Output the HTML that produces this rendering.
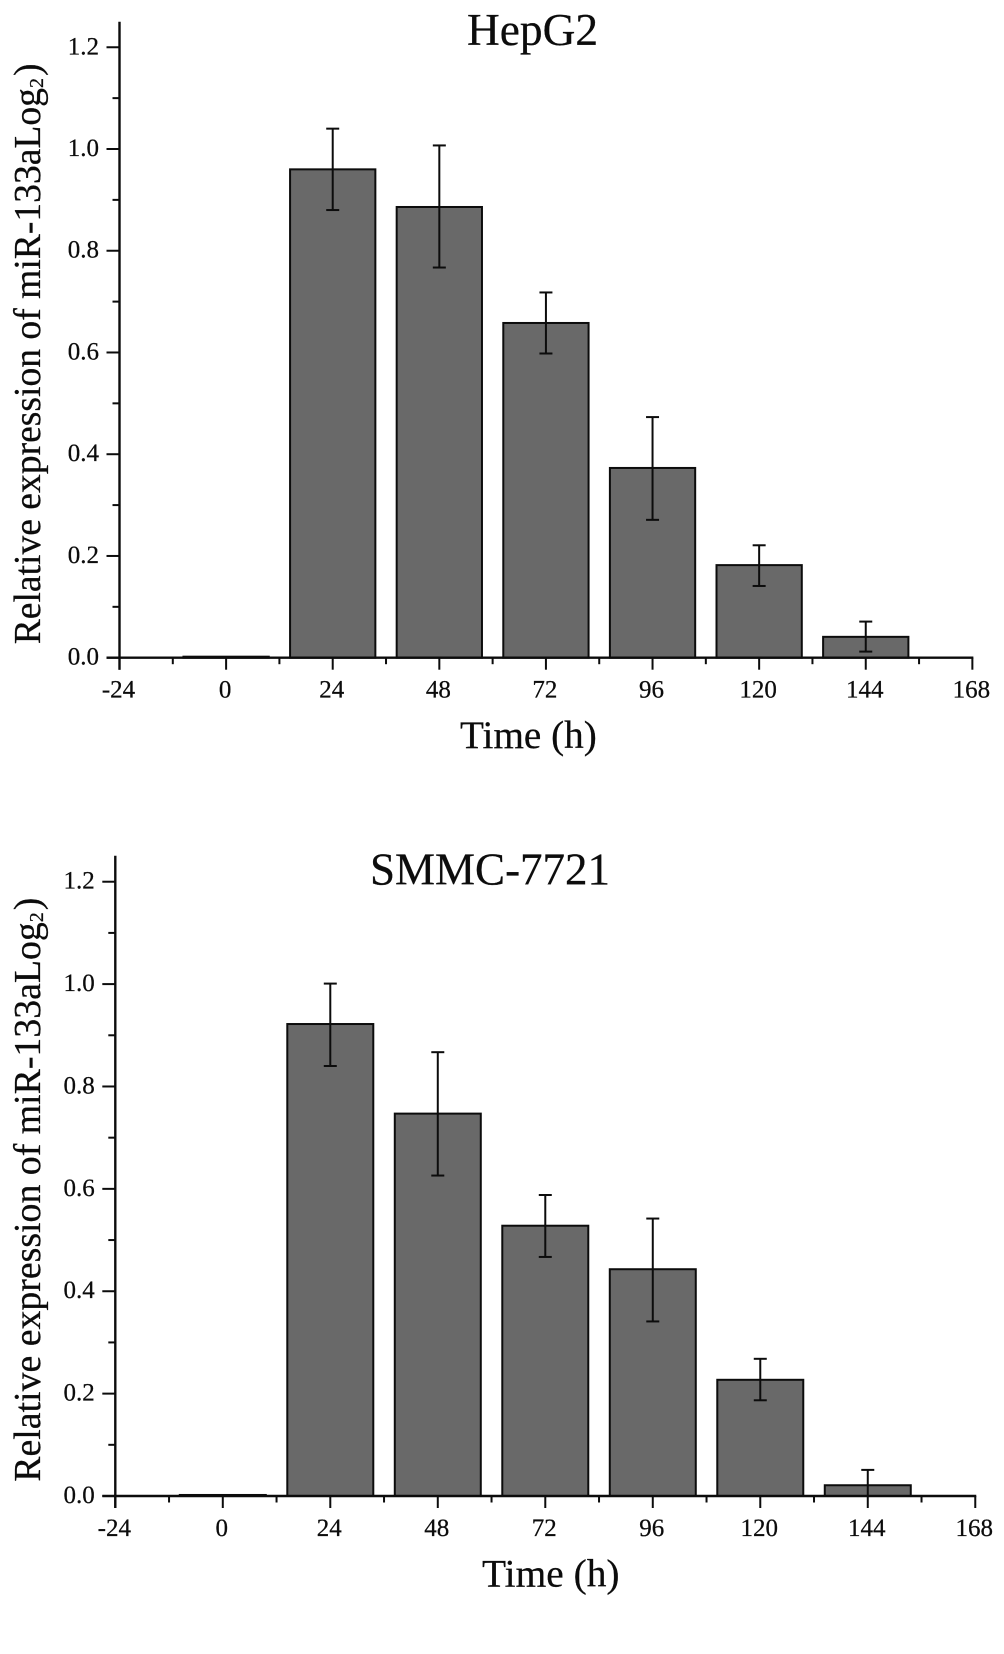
<!DOCTYPE html>
<html>
<head>
<meta charset="utf-8">
<style>
html,body{margin:0;padding:0;background:#fff;width:1004px;height:1654px;overflow:hidden}
svg{display:block}
text{font-family:"Liberation Serif",serif;fill:#0c0c0c;stroke:#0c0c0c;stroke-width:.25px}
</style>
</head>
<body>
<svg id="figure" width="1004" height="1654" viewBox="0 0 1004 1654" xmlns="http://www.w3.org/2000/svg">
  <rect x="0" y="0" width="1004" height="1654" fill="#ffffff"/>
  <g id="chart-top">
    <text x="467" y="45" font-size="45.4">HepG2</text>
    <text x="460" y="748" font-size="39.2">Time (h)</text>
    <text transform="translate(40,644.3) rotate(-90)" font-size="37.6">Relative expression of miR-133aLog<tspan font-size="20" dy="3">2</tspan><tspan dy="-3" dx="2">)</tspan></text>
  </g>
  <g id="chart-bottom">
    <text x="370" y="884.3" font-size="45">SMMC-7721</text>
    <text x="482" y="1586.7" font-size="39.4">Time (h)</text>
    <text transform="translate(40,1481.7) rotate(-90)" font-size="37.8">Relative expression of miR-133aLog<tspan font-size="20" dy="3">2</tspan><tspan dy="-3" dx="2">)</tspan></text>
  </g>
</svg>
<script>
const timePoints = [0, 24, 48, 72, 96, 120, 144];
const xTickValues = [-24, 0, 24, 48, 72, 96, 120, 144, 168];
const xTickLabels = ["-24", "0", "24", "48", "72", "96", "120", "144", "168"];
const xMinorTicks = [-12, 12, 36, 60, 84, 108, 132, 156];
const yTickValues = [0, 0.2, 0.4, 0.6, 0.8, 1.0, 1.2];
const yTickLabels = ["0.0", "0.2", "0.4", "0.6", "0.8", "1.0", "1.2"];
const yMinorTicks = [0.1, 0.3, 0.5, 0.7, 0.9, 1.1];

const hepg2Values = [0.002, 0.96, 0.886, 0.658, 0.373, 0.182, 0.041];
const hepg2ErrorHigh = [0.002, 1.04, 1.007, 0.718, 0.473, 0.221, 0.071];
const hepg2ErrorLow = [0.002, 0.88, 0.767, 0.598, 0.271, 0.141, 0.012];

const smmcValues = [0.002, 0.922, 0.747, 0.528, 0.443, 0.227, 0.021];
const smmcErrorHigh = [0.002, 1.001, 0.867, 0.588, 0.542, 0.268, 0.051];
const smmcErrorLow = [0.002, 0.84, 0.626, 0.467, 0.341, 0.187, 0];

const SVG_NS = "http://www.w3.org/2000/svg";
const INK = "#0c0c0c";
const BAR_FILL = "#696969";

function make(parent, tag, attrs) {
  const el = document.createElementNS(SVG_NS, tag);
  for (const k in attrs) el.setAttribute(k, attrs[k]);
  parent.appendChild(el);
  return el;
}

function drawChart(groupId, layout, values, errHigh, errLow) {
  const g = document.getElementById(groupId);
  const xScale = t => layout.x0 + (t + 24) * layout.pxPerHour;
  const yScale = v => layout.y0 - v * layout.pxPerUnit;
  const barHalf = 9.6 * layout.pxPerHour;
  const axisX = xScale(-24);
  const axisY = yScale(0);

  timePoints.forEach((t, i) => {
    const bar = make(g, "rect", {
      x: xScale(t) - barHalf,
      y: yScale(values[i]),
      width: barHalf * 2,
      height: axisY - yScale(values[i]),
      fill: BAR_FILL,
      stroke: INK,
      "stroke-width": 2
    });
    
    

    if (errHigh[i] > errLow[i]) {
      const stem = make(g, "line", {
        x1: xScale(t), x2: xScale(t),
        y1: yScale(errHigh[i]), y2: yScale(errLow[i]),
        stroke: INK, "stroke-width": 2
      });
      
      

      const capTop = make(g, "line", {
        x1: xScale(t) - 6.5, x2: xScale(t) + 6.5,
        y1: yScale(errHigh[i]), y2: yScale(errHigh[i]),
        stroke: INK, "stroke-width": 2
      });
      
      

      if (errLow[i] > 0) {
        const capLow = make(g, "line", {
          x1: xScale(t) - 6.5, x2: xScale(t) + 6.5,
          y1: yScale(errLow[i]), y2: yScale(errLow[i]),
          stroke: INK, "stroke-width": 2
        });
        
        
      }
    }
  });

  const yAxis = make(g, "line", {
    x1: axisX, x2: axisX, y1: layout.axisTop, y2: axisY + 12,
    stroke: INK, "stroke-width": 2.4
  });
  
  

  const xAxis = make(g, "line", {
    x1: axisX - 13, x2: xScale(168) + 1, y1: axisY, y2: axisY,
    stroke: INK, "stroke-width": 2.4
  });
  
  

  yTickValues.forEach((v, i) => {
    const tick = make(g, "line", {
      x1: axisX - 13, x2: axisX, y1: yScale(v), y2: yScale(v),
      stroke: INK, "stroke-width": 2
    });
    
    

    const label = make(g, "text", {
      x: axisX - 20.5, y: yScale(v) + 7, "font-size": 25, "text-anchor": "end"
    });
    label.textContent = yTickLabels[i];
    
    
  });

  yMinorTicks.forEach(v => {
    const tick = make(g, "line", {
      x1: axisX - 7, x2: axisX, y1: yScale(v), y2: yScale(v),
      stroke: INK, "stroke-width": 2
    });
    
    
  });

  xTickValues.forEach((t, i) => {
    const tick = make(g, "line", {
      x1: xScale(t), x2: xScale(t), y1: axisY, y2: axisY + 12,
      stroke: INK, "stroke-width": 2
    });
    
    

    const label = make(g, "text", {
      x: xScale(t) - 1, y: axisY + 40, "font-size": 25, "text-anchor": "middle"
    });
    label.textContent = xTickLabels[i];
    
    
  });

  xMinorTicks.forEach(t => {
    const tick = make(g, "line", {
      x1: xScale(t), x2: xScale(t), y1: axisY, y2: axisY + 6.5,
      stroke: INK, "stroke-width": 2
    });
    
    
  });
}

drawChart("chart-top", { x0: 119.5, pxPerHour: 4.442, y0: 657.7, pxPerUnit: 508.7, axisTop: 21.7 },
  hepg2Values, hepg2ErrorHigh, hepg2ErrorLow);
drawChart("chart-bottom", { x0: 115.3, pxPerHour: 4.479, y0: 1496, pxPerUnit: 511.9, axisTop: 855.7 },
  smmcValues, smmcErrorHigh, smmcErrorLow);
</script>
</body>
</html>
